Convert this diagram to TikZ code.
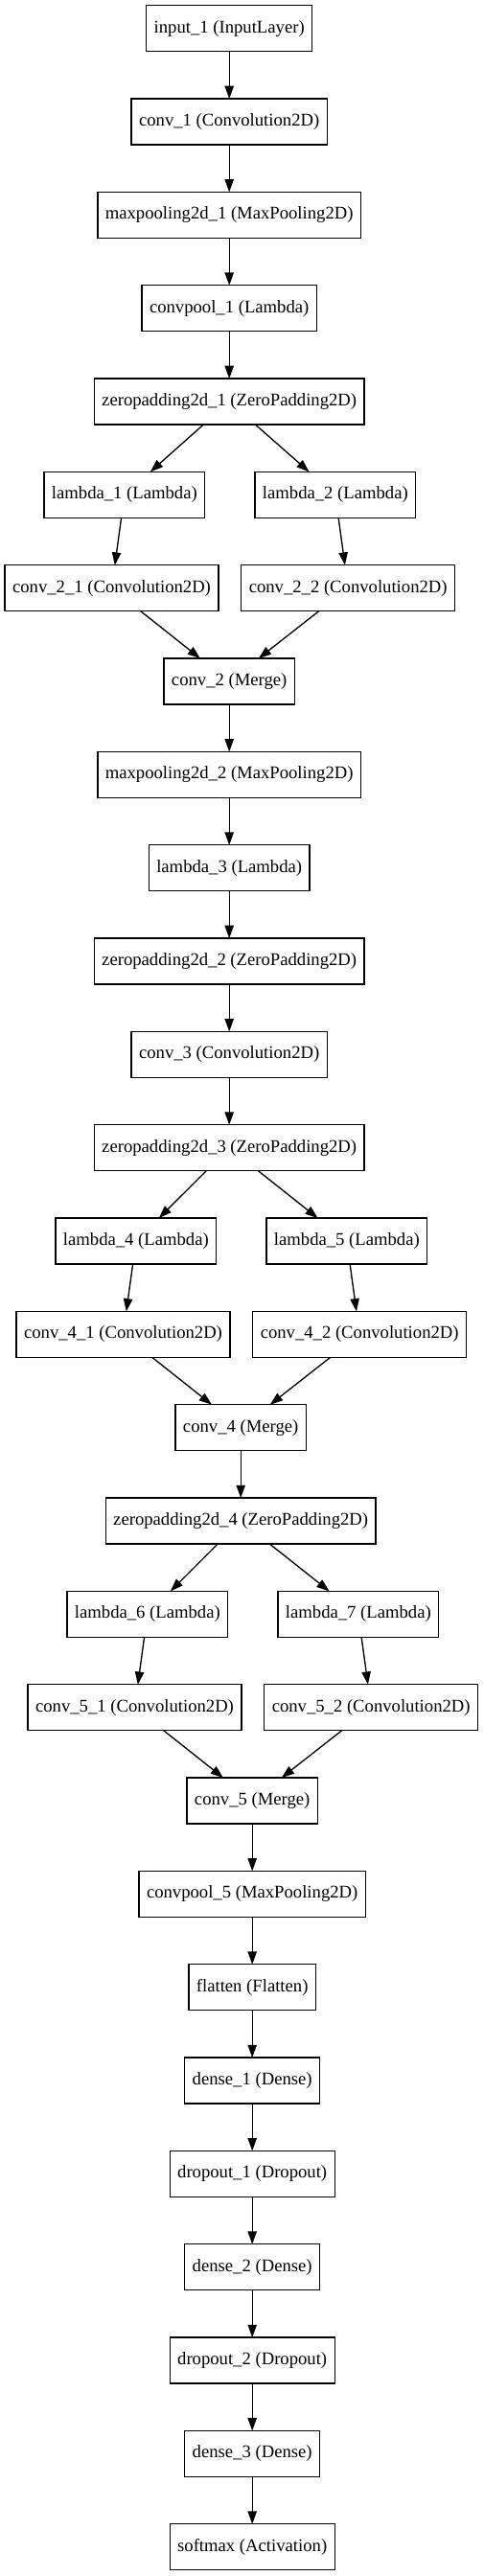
\documentclass[tikz,border=0pt]{standalone}
\usepackage{fontspec}
\setmainfont{Liberation Serif}
\usetikzlibrary{arrows.meta,positioning}

\begin{document}
\begin{tikzpicture}[
    node distance=37pt,
    layer/.style={rectangle, draw, line width=1pt, minimum height=36pt, inner xsep=6pt, inner ysep=0pt, outer sep=0pt, font=\fontsize{14}{16}\selectfont},
    arrow/.style={-{Triangle[length=10pt,width=7pt]}, line width=1pt}
]

\useasboundingbox (-179.4pt,22.3pt) rectangle (198.6pt,-1993.7pt);

% first block
\node[layer] (in1) {input\_1 (InputLayer)};
\node[layer, below=of in1] (conv1) {conv\_1 (Convolution2D)};
\node[layer, below=of conv1] (mp1) {maxpooling2d\_1 (MaxPooling2D)};
\node[layer, below=of mp1] (cp1) {convpool\_1 (Lambda)};
\node[layer, below=of cp1] (zp1) {zeropadding2d\_1 (ZeroPadding2D)};
\node[layer, below=of zp1, xshift=-82pt] (lam1) {lambda\_1 (Lambda)};
\node[layer, below=of zp1, xshift=83pt] (lam2) {lambda\_2 (Lambda)};
\node[layer, below=of lam1, xshift=-10pt] (c21) {conv\_2\_1 (Convolution2D)};
\node[layer, below=of lam2, xshift=10pt] (c22) {conv\_2\_2 (Convolution2D)};
\node[layer, below=of c21, xshift=92pt] (conv2) {conv\_2 (Merge)};

% second block
\node[layer, below=of conv2] (mp2) {maxpooling2d\_2 (MaxPooling2D)};
\node[layer, below=of mp2] (lam3) {lambda\_3 (Lambda)};
\node[layer, below=of lam3] (zp2) {zeropadding2d\_2 (ZeroPadding2D)};
\node[layer, below=of zp2] (conv3) {conv\_3 (Convolution2D)};
\node[layer, below=of conv3] (zp3) {zeropadding2d\_3 (ZeroPadding2D)};
\node[layer, below=of zp3, xshift=-73pt] (lam4) {lambda\_4 (Lambda)};
\node[layer, below=of zp3, xshift=92pt] (lam5) {lambda\_5 (Lambda)};
\node[layer, below=of lam4, xshift=-10pt] (c41) {conv\_4\_1 (Convolution2D)};
\node[layer, below=of lam5, xshift=10pt] (c42) {conv\_4\_2 (Convolution2D)};
\node[layer, below=of c41, xshift=92pt] (conv4) {conv\_4 (Merge)};

% third block
\node[layer, below=of conv4] (zp4) {zeropadding2d\_4 (ZeroPadding2D)};
\node[layer, below=of zp4, xshift=-73pt] (lam6) {lambda\_6 (Lambda)};
\node[layer, below=of zp4, xshift=92pt] (lam7) {lambda\_7 (Lambda)};
\node[layer, below=of lam6, xshift=-10pt] (c51) {conv\_5\_1 (Convolution2D)};
\node[layer, below=of lam7, xshift=10pt] (c52) {conv\_5\_2 (Convolution2D)};
\node[layer, below=of c51, xshift=92pt] (conv5) {conv\_5 (Merge)};

% dense part
\node[layer, below=of conv5] (cp5) {convpool\_5 (MaxPooling2D)};
\node[layer, below=of cp5] (flat) {flatten (Flatten)};
\node[layer, below=of flat] (d1) {dense\_1 (Dense)};
\node[layer, below=of d1] (drop1) {dropout\_1 (Dropout)};
\node[layer, below=of drop1] (d2) {dense\_2 (Dense)};
\node[layer, below=of d2] (drop2) {dropout\_2 (Dropout)};
\node[layer, below=of drop2] (d3) {dense\_3 (Dense)};
\node[layer, below=of d3] (soft) {softmax (Activation)};

\draw[arrow] (in1) -- (conv1);
\draw[arrow] (conv1) -- (mp1);
\draw[arrow] (mp1) -- (cp1);
\draw[arrow] (cp1) -- (zp1);
\draw[arrow] (zp1) -- (lam1);
\draw[arrow] (zp1) -- (lam2);
\draw[arrow] (lam1) -- (c21);
\draw[arrow] (lam2) -- (c22);
\draw[arrow] (c21) -- (conv2);
\draw[arrow] (c22) -- (conv2);
\draw[arrow] (conv2) -- (mp2);
\draw[arrow] (mp2) -- (lam3);
\draw[arrow] (lam3) -- (zp2);
\draw[arrow] (zp2) -- (conv3);
\draw[arrow] (conv3) -- (zp3);
\draw[arrow] (zp3) -- (lam4);
\draw[arrow] (zp3) -- (lam5);
\draw[arrow] (lam4) -- (c41);
\draw[arrow] (lam5) -- (c42);
\draw[arrow] (c41) -- (conv4);
\draw[arrow] (c42) -- (conv4);
\draw[arrow] (conv4) -- (zp4);
\draw[arrow] (zp4) -- (lam6);
\draw[arrow] (zp4) -- (lam7);
\draw[arrow] (lam6) -- (c51);
\draw[arrow] (lam7) -- (c52);
\draw[arrow] (c51) -- (conv5);
\draw[arrow] (c52) -- (conv5);
\draw[arrow] (conv5) -- (cp5);
\draw[arrow] (cp5) -- (flat);
\draw[arrow] (flat) -- (d1);
\draw[arrow] (d1) -- (drop1);
\draw[arrow] (drop1) -- (d2);
\draw[arrow] (d2) -- (drop2);
\draw[arrow] (drop2) -- (d3);
\draw[arrow] (d3) -- (soft);

\end{tikzpicture}
\end{document}
